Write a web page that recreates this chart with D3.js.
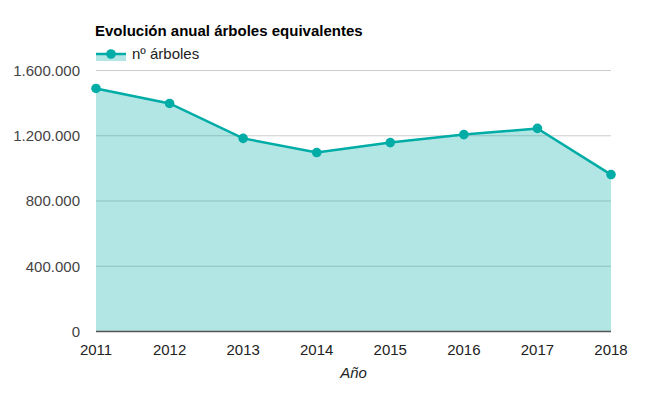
<!DOCTYPE html>
<html>
<head>
<meta charset="utf-8">
<script src="https://cdn.jsdelivr.net/npm/d3@7"></script>
<style>
  body { margin: 0; background: #fff; }
  text { font-family: "Liberation Sans", Arial, sans-serif; }
</style>
</head>
<body>
<div id="plot"></div>
<script>
// Data
const years = ["2011", "2012", "2013", "2014", "2015", "2016", "2017", "2018"];
const trees = [1490000, 1398000, 1184000, 1097000, 1158000, 1207000, 1245000, 962000];
const yTicks = [0, 400000, 800000, 1200000, 1600000];

const W = 661, H = 398;
const margin = { top: 70.5, right: 50, bottom: 66.5, left: 96 };
const width = W - margin.left - margin.right,
      height = H - margin.top - margin.bottom;

const lineColor = "#00aca6";

const svg = d3.select("#plot")
    .append("svg")
    .attr("width", W)
    .attr("height", H);

const g = svg.append("g")
    .attr("transform", "translate(" + margin.left + "," + margin.top + ")");

const x = d3.scalePoint().domain(years).range([0, width]);
const y = d3.scaleLinear().domain([0, 1600000]).range([height, 0]);

const fmt = v => d3.format(",")(v).replace(/,/g, ".");

// Gridlines
g.selectAll(".grid")
    .data(yTicks.slice(1))
    .enter()
    .append("line")
    .attr("x1", 0)
    .attr("x2", width)
    .attr("y1", d => y(d))
    .attr("y2", d => y(d))
    .attr("stroke", "#cccccc")
    .attr("stroke-width", 1);

// Area
const area = d3.area()
    .x((d, i) => x(years[i]))
    .y0(y(0))
    .y1(d => y(d));

g.append("path")
    .datum(trees)
    .attr("d", area)
    .attr("fill", lineColor)
    .attr("fill-opacity", 0.3);

// Baseline
g.append("line")
    .attr("x1", 0)
    .attr("x2", width)
    .attr("y1", y(0))
    .attr("y2", y(0))
    .attr("stroke", "#555")
    .attr("stroke-width", 1.5);

// Line
const line = d3.line()
    .x((d, i) => x(years[i]))
    .y(d => y(d));

g.append("path")
    .datum(trees)
    .attr("d", line)
    .attr("fill", "none")
    .attr("stroke", lineColor)
    .attr("stroke-width", 2.5);

// Points
g.selectAll(".pt")
    .data(trees)
    .enter()
    .append("circle")
    .attr("cx", (d, i) => x(years[i]))
    .attr("cy", d => y(d))
    .attr("r", 4.8)
    .attr("fill", lineColor);

// Y labels
g.selectAll(".ylab")
    .data(yTicks)
    .enter()
    .append("text")
    .attr("x", -16)
    .attr("y", d => y(d))
    .attr("dy", "0.35em")
    .attr("text-anchor", "end")
    .style("font-size", "15px")
    .style("fill", "#444")
    .text(d => fmt(d));

// X labels
g.selectAll(".xlab")
    .data(years)
    .enter()
    .append("text")
    .attr("x", d => x(d))
    .attr("y", height + 23)
    .attr("text-anchor", "middle")
    .style("font-size", "15px")
    .style("fill", "#222")
    .text(d => d);

// X axis title
g.append("text")
    .attr("x", width / 2)
    .attr("y", height + 46)
    .attr("text-anchor", "middle")
    .style("font-size", "15px")
    .style("font-style", "italic")
    .style("fill", "#222")
    .text("Año");

// Title
svg.append("text")
    .attr("x", 95)
    .attr("y", 36)
    .style("font-size", "15px")
    .style("font-weight", "bold")
    .style("fill", "#000")
    .text("Evolución anual árboles equivalentes");

// Legend
const leg = svg.append("g").attr("transform", "translate(96,54)");
leg.append("rect")
    .attr("x", 0).attr("y", 0)
    .attr("width", 30).attr("height", 7)
    .attr("fill", lineColor)
    .attr("fill-opacity", 0.3);
leg.append("line")
    .attr("x1", 0).attr("x2", 30)
    .attr("y1", 0).attr("y2", 0)
    .attr("stroke", lineColor)
    .attr("stroke-width", 2.5);
leg.append("circle")
    .attr("cx", 15).attr("cy", 0)
    .attr("r", 4.8)
    .attr("fill", lineColor);
leg.append("text")
    .attr("x", 36)
    .attr("y", 0)
    .attr("dy", "0.35em")
    .style("font-size", "15px")
    .style("fill", "#222")
    .text("nº árboles");
</script>
</body>
</html>
